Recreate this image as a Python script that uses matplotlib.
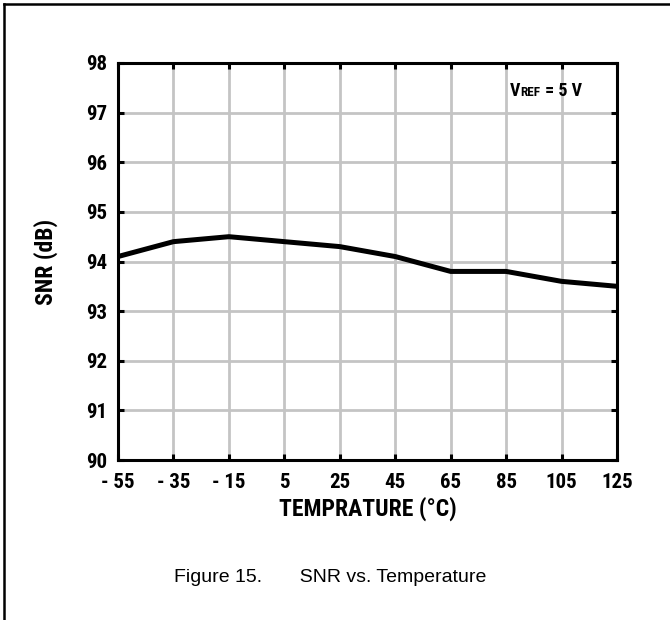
import matplotlib
matplotlib.use("Agg")
import matplotlib.pyplot as plt
from matplotlib.lines import Line2D
from matplotlib.offsetbox import TextArea, HPacker, AnchoredOffsetbox

temps = [-55, -35, -15, 5, 25, 45, 65, 85, 105, 125]
snr = [94.1, 94.4, 94.5, 94.4, 94.3, 94.1, 93.8, 93.8, 93.6, 93.5]
xtick_labels = ["- 55", "- 35", "- 15", "5", "25", "45", "65", "85", "105", "125"]
yticks = [90, 91, 92, 93, 94, 95, 96, 97, 98]

W, H = 670, 620
bold = dict(family=["Roboto Condensed", "DejaVu Sans"], fontweight="bold")
regular = ["Liberation Sans", "DejaVu Sans"]

fig = plt.figure(figsize=(W / 100, H / 100), dpi=100)
ax = fig.add_axes([118 / W, 160 / H, 499 / W, 397 / H])

ax.plot(temps, snr, color="black", lw=3.6, solid_capstyle="butt", zorder=3, clip_on=False)
ax.set_xlim(-55, 125)
ax.set_ylim(90, 98)
ax.set_xticks(temps)
ax.set_xticklabels(xtick_labels, **bold, fontsize=15)
ax.set_yticks(yticks)
ax.set_yticklabels([str(v) for v in yticks], **bold, fontsize=15)
ax.grid(True, color="#c4c4c4", lw=2.0, zorder=0)
ax.set_axisbelow(True)
for s in ax.spines.values():
    s.set_linewidth(2.2)
    s.set_color("black")
ax.tick_params(direction="in", length=4, width=2.2, top=True, right=True)
ax.tick_params(axis="x", pad=9)
ax.tick_params(axis="y", pad=8)

ax.set_xlabel("TEMPRATURE (°C)", **bold, fontsize=17)
ax.xaxis.set_label_coords(0.5, (460 - 509) / 397)
ax.xaxis.label.set_va("center")
ax.set_ylabel("SNR (dB)", **bold, fontsize=17)
ax.yaxis.set_label_coords((46 - 118) / 499, 0.5)
ax.yaxis.label.set_va("center")

pieces = HPacker(children=[
    TextArea("V", textprops=dict(**bold, fontsize=13)),
    TextArea("REF", textprops=dict(**bold, fontsize=9.5)),
    TextArea(" = 5 V", textprops=dict(**bold, fontsize=13)),
], align="baseline", pad=0, sep=0)
ab = AnchoredOffsetbox(loc="center", child=pieces, pad=0, frameon=False,
                       bbox_to_anchor=(546 / W, 1 - 91 / H), bbox_transform=fig.transFigure,
                       borderpad=0)
fig.add_artist(ab)

fig.text(330 / W, 1 - 578 / H, "Figure 15.       SNR vs. Temperature", family=regular,
         fontsize=14, ha="center", va="center")

# figure frame (top and left)
fig.add_artist(Line2D([3.5 / W, 3.5 / W], [0, 1 - 3.5 / H], transform=fig.transFigure,
                      color="black", lw=1.8))
fig.add_artist(Line2D([3.5 / W, 1], [1 - 3.5 / H, 1 - 3.5 / H], transform=fig.transFigure,
                      color="black", lw=1.8))

fig.savefig("out.png", dpi=100, facecolor="white")
